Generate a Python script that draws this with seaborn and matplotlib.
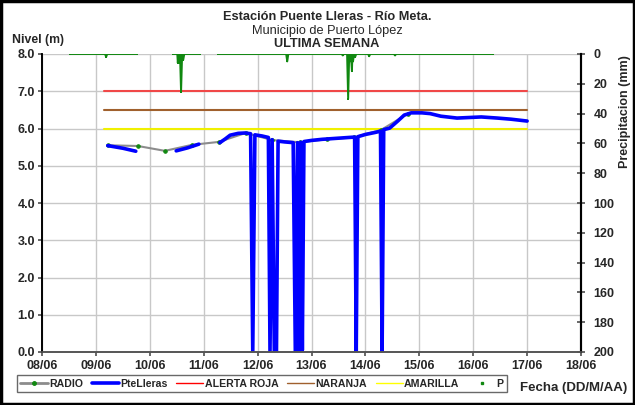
import numpy as np
import pandas as pd
import seaborn as sns
import matplotlib.pyplot as plt
from matplotlib.lines import Line2D
from matplotlib.patches import Rectangle

sns.set_theme(style="whitegrid")
plt.rcParams['font.family'] = ['Liberation Sans', 'DejaVu Sans']

# dates as day-of-june (decimal)
x_ticks = [8, 9, 10, 11, 12, 13, 14, 15, 16, 17, 18]
x_labels = ["08/06", "09/06", "10/06", "11/06", "12/06", "13/06",
            "14/06", "15/06", "16/06", "17/06", "18/06"]
y_ticks = [0, 1, 2, 3, 4, 5, 6, 7, 8]
p_ticks = [0, 20, 40, 60, 80, 100, 120, 140, 160, 180, 200]

# PteLleras level (m); seg marks separated pieces of the line
lvl_seg = [0, 0, 0,
           1, 1, 1,
           2, 2, 2, 2, 2, 2, 2, 2, 2, 2, 2, 2, 2, 2, 2, 2, 2, 2, 2, 2, 2, 2, 2, 2,
           2, 2, 2, 2, 2, 2, 2, 2, 2, 2, 2, 2, 2, 2, 2, 2, 2, 2, 2, 2, 2, 2, 2]
lvl_time = [9.22, 9.50, 9.74,
            10.49, 10.70, 10.91,
            11.30, 11.40, 11.49, 11.64, 11.77, 11.87, 11.91, 11.95, 12.08, 12.20,
            12.23, 12.27, 12.31, 12.35, 12.38, 12.50, 12.66, 12.70, 12.74, 12.77,
            12.80, 12.83, 12.86, 13.00, 13.20, 13.50, 13.80, 13.83, 13.86, 14.00,
            14.20, 14.28, 14.31, 14.34, 14.45, 14.60, 14.72, 14.85, 15.05, 15.20,
            15.40, 15.70, 16.00, 16.15, 16.45, 16.70, 17.00]
lvl_value = [5.54, 5.47, 5.39,
             5.40, 5.48, 5.58,
             5.62, 5.72, 5.82, 5.87, 5.88, 5.86, 0.00, 5.83, 5.80, 5.76,
             0.00, 5.70, 0.00, 0.00, 5.66, 5.64, 5.62, 0.00, 5.62, 0.00,
             5.63, 0.05, 5.65, 5.68, 5.71, 5.74, 5.77, 0.00, 5.78, 5.84,
             5.90, 5.93, 0.00, 5.97, 6.01, 6.20, 6.36, 6.42, 6.42, 6.40,
             6.33, 6.28, 6.30, 6.31, 6.28, 6.25, 6.20]

# RADIO level (m)
radio_time = [9.22, 9.78, 10.28, 10.78, 11.28, 11.78, 12.27, 12.78, 13.28,
              13.78, 14.29, 14.79]
radio_value = [5.55, 5.53, 5.40, 5.56, 5.64, 5.88, 5.69, 5.63, 5.71,
               5.76, 5.96, 6.40]

# alert thresholds
alert_time = [9.15, 17.0]
alerta_roja = 7.0
naranja = 6.5
amarilla = 6.0

# precipitation P (mm)
p_seg = [0, 0, 0, 0, 0,
         1, 1, 1, 1, 1, 1, 1, 1, 1, 1, 1,
         2, 2, 2, 2, 2, 2, 2, 2, 2, 2, 2, 2, 2, 2, 2, 2, 2, 2, 2, 2, 2, 2, 2, 2, 2]
p_time = [8.52, 9.17, 9.19, 9.21, 9.76,
          10.43, 10.51, 10.52, 10.53, 10.54, 10.56, 10.58, 10.60, 10.62, 10.64, 10.93,
          11.27, 12.53, 12.55, 12.57, 13.56, 13.58, 13.60, 13.66, 13.68, 13.70,
          13.71, 13.73, 13.75, 13.76, 13.77, 13.79, 13.81, 13.83, 14.05, 14.07,
          14.09, 14.53, 14.55, 14.57, 16.37]
p_value = [0, 0, 2, 0, 0,
           0, 0, 6, 0, 6, 0, 25.5, 0, 4, 0, 0,
           0, 0, 5, 0, 0, 1, 0, 0, 30, 0,
           5, 0, 11.5, 0, 5, 0, 2, 0, 0, 1.5,
           0, 0, 1, 0, 0]

lvl = pd.DataFrame({"t": lvl_time, "v": lvl_value, "seg": lvl_seg})
radio = pd.DataFrame({"t": radio_time, "v": radio_value})
prec = pd.DataFrame({"t": p_time, "v": p_value, "seg": p_seg})

c_blue = "#0000ff"
c_red = "#f04848"
c_brown = "#a0602d"
c_yellow = "#f0f000"
c_green = "#108810"
c_gray = "#8c8c8c"

fig = plt.figure(figsize=(6.35, 4.05), dpi=100)
ax = fig.add_axes([42 / 635, 1 - 352 / 405, 539 / 635, 298 / 405])
ax2 = ax.twinx()

for val, col in [(alerta_roja, c_red), (naranja, c_brown), (amarilla, c_yellow)]:
    sns.lineplot(x=alert_time, y=[val, val], ax=ax, color=col, lw=1.5)

sns.lineplot(data=radio, x="t", y="v", ax=ax, color=c_gray, lw=1.5,
             marker="o", markersize=2.5, markerfacecolor=c_green,
             markeredgecolor=c_green)
sns.lineplot(data=lvl, x="t", y="v", units="seg", estimator=None, sort=False,
             ax=ax, color=c_blue, lw=2.6)

sns.lineplot(data=prec, x="t", y="v", units="seg", estimator=None, sort=False,
             ax=ax2, color=c_green, lw=1.4, marker="s", markersize=1.8,
             markeredgewidth=0, markerfacecolor=c_green)

ax.set_xlim(8, 18)
ax.set_ylim(0, 8)
ax.set_xticks(x_ticks)
ax.set_xticklabels(x_labels)
ax.set_yticks(y_ticks)
ax.set_yticklabels([f"{v:.1f}" for v in y_ticks])
ax.set_xlabel("")
ax.set_ylabel("")
ax.grid(True, color="#c8c8c8", lw=1)
ax.tick_params(axis="both", labelsize=9, length=3, direction="out",
               color="#555555", pad=2)
ax.tick_params(axis="y", left=True)
ax.tick_params(axis="x", bottom=True, pad=3)
for lab in ax.get_xticklabels() + ax.get_yticklabels():
    lab.set_fontweight("bold")

ax2.set_ylim(200, 0)
ax2.set_yticks(p_ticks)
ax2.set_ylabel("")
ax2.grid(False)
ax2.tick_params(axis="y", labelsize=9, length=6, direction="inout",
                color="#555555", right=True, pad=6)
for lab in ax2.get_yticklabels():
    lab.set_fontweight("bold")

for a in (ax, ax2):
    a.spines["top"].set_visible(False)
    a.spines["left"].set_color("black")
    a.spines["left"].set_linewidth(1.2)
    a.spines["right"].set_color("black")
    a.spines["right"].set_linewidth(1.5)
    a.spines["bottom"].set_color("#555555")
    a.spines["bottom"].set_linewidth(1.2)

# titles
fig.text(0.515, 1 - 17 / 405, "Estación Puente Lleras - Río Meta.", ha="center",
         va="center", fontsize=9.2, fontweight="bold")
fig.text(0.515, 1 - 31 / 405, "Municipio de Puerto López", ha="center",
         va="center", fontsize=9.2)
fig.text(0.515, 1 - 44 / 405, "ULTIMA SEMANA", ha="center", va="center",
         fontsize=9.2, fontweight="bold")
fig.text(12 / 635, 1 - 40 / 405, "Nivel (m)", ha="left", va="center",
         fontsize=8.8, fontweight="bold")
fig.text(625 / 635, 1 - 112 / 405, "Precipitacion (mm)", ha="center",
         va="center", rotation=90, fontsize=9, fontweight="bold")
fig.text(574 / 635, 1 - 388 / 405, "Fecha (DD/M/AA)", ha="center",
         va="center", fontsize=9.5, fontweight="bold")

handles = [
    Line2D([], [], color=c_gray, lw=2, marker="o", markersize=2.5,
           markerfacecolor=c_green, markeredgecolor=c_green),
    Line2D([], [], color=c_blue, lw=2.6),
    Line2D([], [], color="#ff0000", lw=1),
    Line2D([], [], color=c_brown, lw=1),
    Line2D([], [], color="#ffff00", lw=1),
    Line2D([], [], color=c_green, lw=0, marker="s", markersize=2),
]
labels = ["RADIO", "PteLleras", "ALERTA ROJA", "NARANJA", "AMARILLA", "P"]
leg = fig.legend(handles, labels, loc="lower left",
                 bbox_to_anchor=(12 / 635, 8 / 405, 500 / 635, 19 / 405),
                 mode="expand", ncol=6, frameon=True, fancybox=False,
                 edgecolor="#444444", handlelength=2.6,
                 handletextpad=0.1, borderpad=0.3, columnspacing=0.8,
                 prop={"weight": "bold", "size": 7.6})
leg.get_frame().set_linewidth(1)

fig.patches.append(Rectangle((0.002, 0.003), 0.996, 0.994, transform=fig.transFigure,
                             fill=False, lw=2.5, edgecolor="black"))

fig.savefig("out.png", dpi=100, facecolor="white")
